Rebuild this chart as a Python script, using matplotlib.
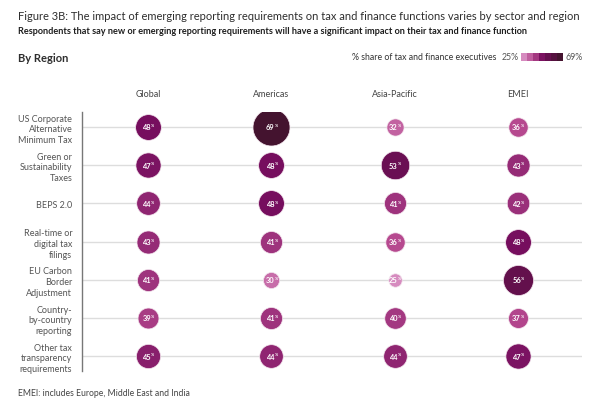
import numpy as np
import matplotlib
matplotlib.use("Agg")
import matplotlib.pyplot as plt
from matplotlib.colors import LinearSegmentedColormap

plt.rcParams['font.family'] = ['Lato', 'DejaVu Sans']

# data
regions = ["Global", "Americas", "Asia-Pacific", "EMEI"]
requirements = [
    "US Corporate\nAlternative\nMinimum Tax",
    "Green or\nSustainability\nTaxes",
    "BEPS 2.0",
    "Real-time or\ndigital tax\nfilings",
    "EU Carbon\nBorder\nAdjustment",
    "Country-\nby-country\nreporting",
    "Other tax\ntransparency\nrequirements",
]
global_vals = [48, 47, 44, 43, 41, 39, 45]
americas_vals = [69, 48, 48, 41, 30, 41, 44]
apac_vals = [32, 53, 41, 36, 25, 40, 44]
emei_vals = [36, 43, 42, 48, 56, 37, 47]
scale_min, scale_max = 25, 69

values = np.array([global_vals, americas_vals, apac_vals, emei_vals])

# colour ramp, pink -> dark plum
cmap = LinearSegmentedColormap.from_list(
    "ey", [(0.0, "#d68bbf"), (0.25, "#b6498f"), (0.41, "#952b76"),
           (0.52, "#760e5e"), (1.0, "#44132f")])

def shade(v):
    return cmap((v - scale_min) / (scale_max - scale_min))

fig = plt.figure(figsize=(6, 4.1), dpi=100)

fig.text(18/600, 1-17/410, "Figure 3B: The impact of emerging reporting requirements on tax and finance functions varies by sector and region",
         fontsize=8.0, color="#2e2e2e", va="center", ha="left")
fig.text(18/600, 1-32/410, "Respondents that say new or emerging reporting requirements will have a significant impact on their tax and finance function",
         fontsize=6.6, color="#1e1e1e", fontweight="bold", va="center", ha="left")
fig.text(18/600, 1-58/410, "By Region", fontsize=8, fontweight="bold", color="#2e2e2e", va="center")
fig.text(496/600, 1-58/410, "% share of tax and finance executives", fontsize=6.3, color="#333333",
         va="center", ha="right")
fig.text(502/600, 1-58/410, "25%", fontsize=6.3, color="#555555", va="center", ha="left")
fig.text(565/600, 1-58/410, "69%", fontsize=6.3, color="#555555", va="center", ha="left")

# legend bar
lax = fig.add_axes([521/600, 1-62/410, 42/600, 8/410])
lax.imshow(np.arange(7).reshape(1, -1), cmap=LinearSegmentedColormap.from_list(
    "steps", [cmap(i/6) for i in range(7)], N=7), aspect="auto")
lax.axis("off")

ax = fig.add_axes([82/600, 1-372/410, 500/600, 259/410])
ax.set_xlim(-0.535, 3.52)
ax.set_ylim(6.39, -0.39)

for i in range(len(requirements)):
    ax.axhline(i, color="#dddddd", lw=1, zorder=0)

for j, region in enumerate(regions):
    for i in range(len(requirements)):
        v = values[j, i]
        d = 0.536 * v * 0.72
        ax.scatter(j, i, s=d**2, color=shade(v), edgecolors="#f3e6ee", linewidths=0.5, zorder=3)
        ax.annotate(str(v), (j, i), xytext=(-0.9, 0), textcoords="offset points",
                    ha="center", va="center", fontsize=5.4, fontweight="bold", color="white", zorder=4)
        ax.annotate("%", (j, i), xytext=(3.5, 1.2), textcoords="offset points",
                    ha="center", va="center", fontsize=2.8, fontweight="bold", color="white", zorder=4)

ax.set_xticks(range(len(regions)))
ax.set_xticklabels(regions, fontsize=6.5, color="#444444")
ax.xaxis.tick_top()
ax.set_yticks(range(len(requirements)))
ax.set_yticklabels(requirements, fontsize=6.5, color="#555555", linespacing=1.25)
ax.tick_params(axis="x", length=0, pad=10)
ax.tick_params(axis="y", length=0, pad=7)
for s in ["top", "right", "bottom"]:
    ax.spines[s].set_visible(False)
ax.spines["left"].set_color("#777777")
ax.spines["left"].set_linewidth(1)

fig.text(18/600, 1-394/410, "EMEI: includes Europe, Middle East and India", fontsize=6.2, color="#444444", va="center")

fig.savefig("out.png", dpi=100, facecolor="white")
